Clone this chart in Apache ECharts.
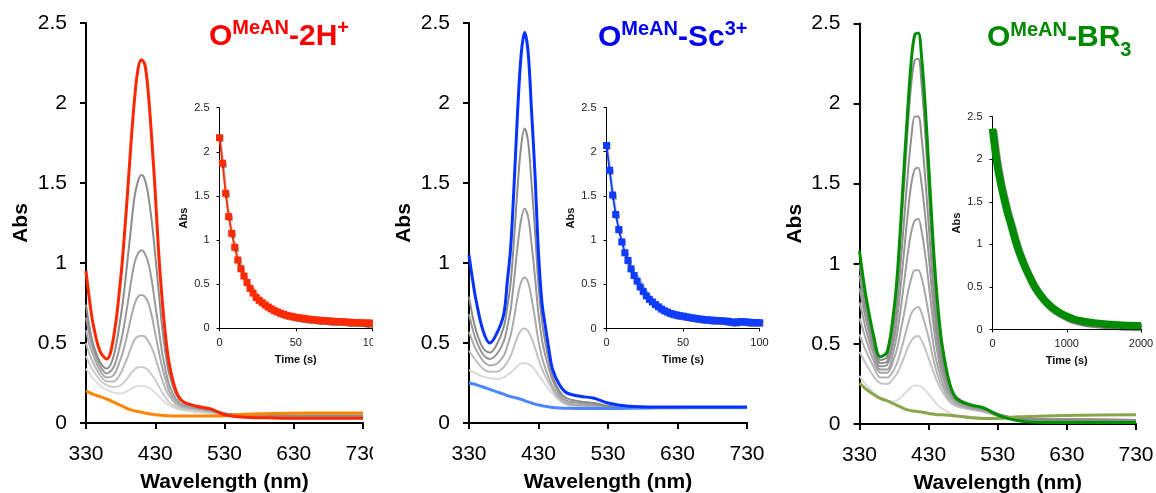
<!DOCTYPE html>
<html>
<head>
<meta charset="utf-8">
<script src="https://cdn.jsdelivr.net/npm/echarts@6/dist/echarts.min.js"></script>
<style>
  html, body { margin:0; padding:0; background:#fff; }
  body { width:1156px; height:493px; overflow:hidden; position:relative; }
  .panel { position:absolute; top:0; height:493px; overflow:hidden; }
</style>
</head>
<body>
<div id="c1" class="panel" style="left:0px;width:373px"></div>
<div id="c2" class="panel" style="left:373px;width:397px"></div>
<div id="c3" class="panel" style="left:770px;width:386px"></div>
<script>
// ---------------- DATA ----------------
const wavelengths = [330,335,340,350,360,370,380,385,390,395,400,405,410,415,420,425,430,435,440,445,450,460,470,490,510,530,560,600,650,730];
const xTickLabels = ['330','430','530','630','730'];

// Panel 1: O(MeAN)-2H+
const p1Start = [0.95,0.77,0.625,0.45,0.40,0.54,0.90,1.15,1.44,1.75,2.02,2.21,2.27,2.24,2.06,1.77,1.44,1.06,0.77,0.54,0.375,0.20,0.135,0.105,0.088,0.052,0.036,0.032,0.03,0.03];
const p1Gray1 = [0.74,0.60,0.50,0.385,0.34,0.42,0.66,0.82,1.02,1.22,1.41,1.51,1.55,1.52,1.42,1.26,1.05,0.82,0.60,0.43,0.31,0.18,0.13,0.10,0.085,0.06,0.05,0.045,0.045,0.045];
const p1Gray2 = [0.66,0.55,0.47,0.36,0.31,0.35,0.50,0.61,0.74,0.88,1.00,1.06,1.08,1.06,1.00,0.89,0.74,0.59,0.44,0.33,0.24,0.15,0.115,0.095,0.08,0.06,0.05,0.045,0.045,0.045];
const p1Gray3 = [0.58,0.49,0.43,0.33,0.285,0.30,0.40,0.47,0.56,0.66,0.74,0.79,0.80,0.79,0.75,0.67,0.56,0.45,0.35,0.27,0.20,0.13,0.105,0.09,0.075,0.06,0.05,0.045,0.045,0.045];
const p1Gray4 = [0.50,0.43,0.38,0.30,0.26,0.26,0.31,0.36,0.41,0.47,0.52,0.54,0.545,0.54,0.51,0.47,0.41,0.34,0.27,0.21,0.17,0.115,0.095,0.085,0.07,0.055,0.05,0.045,0.045,0.045];
const p1Gray5 = [0.42,0.37,0.33,0.27,0.235,0.225,0.235,0.255,0.28,0.31,0.335,0.348,0.35,0.345,0.33,0.30,0.27,0.23,0.19,0.16,0.13,0.10,0.085,0.075,0.065,0.055,0.05,0.045,0.045,0.045];
const p1Gray6 = [0.34,0.31,0.28,0.235,0.205,0.19,0.185,0.19,0.20,0.213,0.225,0.232,0.233,0.23,0.222,0.208,0.19,0.168,0.145,0.125,0.11,0.09,0.078,0.068,0.06,0.052,0.048,0.046,0.045,0.045];
const p1End = [0.20,0.19,0.18,0.165,0.15,0.13,0.11,0.10,0.09,0.082,0.076,0.072,0.068,0.063,0.058,0.055,0.052,0.05,0.048,0.046,0.045,0.044,0.043,0.043,0.043,0.045,0.055,0.06,0.062,0.062];

// Panel 2: O(MeAN)-Sc3+
const p2Start = [1.05,0.90,0.77,0.58,0.50,0.56,0.68,0.88,1.10,1.50,1.95,2.30,2.44,2.32,1.95,1.55,1.06,0.75,0.60,0.46,0.34,0.24,0.19,0.167,0.155,0.125,0.105,0.10,0.10,0.10];
const p2Gray1 = [0.79,0.67,0.58,0.47,0.44,0.49,0.60,0.72,0.88,1.16,1.48,1.73,1.84,1.76,1.50,1.20,0.86,0.64,0.50,0.39,0.30,0.20,0.155,0.135,0.125,0.108,0.10,0.097,0.095,0.095];
const p2Gray2 = [0.68,0.59,0.52,0.43,0.40,0.43,0.51,0.60,0.71,0.90,1.11,1.27,1.34,1.29,1.12,0.91,0.68,0.52,0.42,0.34,0.27,0.18,0.14,0.125,0.115,0.104,0.098,0.095,0.095,0.095];
const p2Gray3 = [0.57,0.51,0.46,0.39,0.36,0.37,0.42,0.48,0.55,0.66,0.79,0.88,0.91,0.88,0.78,0.65,0.51,0.41,0.34,0.28,0.23,0.16,0.125,0.112,0.105,0.098,0.095,0.095,0.095,0.095];
const p2Gray4 = [0.45,0.42,0.39,0.34,0.32,0.32,0.35,0.38,0.42,0.48,0.54,0.58,0.59,0.575,0.53,0.47,0.40,0.34,0.29,0.25,0.21,0.15,0.12,0.105,0.10,0.095,0.093,0.093,0.093,0.093];
const p2Gray5 = [0.33,0.32,0.31,0.29,0.28,0.275,0.285,0.30,0.315,0.335,0.358,0.372,0.375,0.37,0.355,0.33,0.30,0.27,0.24,0.21,0.185,0.14,0.115,0.10,0.095,0.093,0.09,0.09,0.09,0.09];
const p2End = [0.25,0.245,0.24,0.225,0.21,0.195,0.18,0.172,0.165,0.16,0.155,0.148,0.14,0.132,0.125,0.118,0.113,0.108,0.104,0.1,0.097,0.094,0.092,0.09,0.09,0.09,0.092,0.095,0.097,0.097];

// Panel 3: O(MeAN)-BR3
const p3Start = [1.08,0.92,0.78,0.56,0.42,0.45,0.72,0.95,1.28,1.64,1.98,2.27,2.43,2.44,2.28,1.99,1.62,1.24,0.91,0.66,0.48,0.26,0.16,0.12,0.10,0.055,0.02,0.01,0.01,0.01];
const p3Gray1 = [1.00,0.86,0.74,0.53,0.40,0.42,0.68,0.90,1.21,1.53,1.86,2.13,2.27,2.28,2.11,1.82,1.47,1.11,0.79,0.57,0.41,0.25,0.17,0.12,0.10,0.065,0.035,0.025,0.022,0.02];
const p3Gray2 = [0.93,0.80,0.69,0.50,0.38,0.39,0.60,0.78,1.03,1.30,1.57,1.79,1.92,1.92,1.78,1.54,1.25,0.95,0.69,0.50,0.37,0.23,0.16,0.115,0.095,0.06,0.035,0.03,0.028,0.025];
const p3Gray3 = [0.85,0.74,0.64,0.47,0.36,0.37,0.53,0.68,0.88,1.10,1.32,1.50,1.59,1.60,1.49,1.30,1.06,0.82,0.60,0.45,0.34,0.21,0.15,0.11,0.09,0.06,0.035,0.03,0.028,0.025];
const p3Gray4 = [0.76,0.67,0.58,0.44,0.34,0.34,0.47,0.58,0.73,0.90,1.07,1.20,1.27,1.28,1.20,1.06,0.88,0.69,0.52,0.39,0.30,0.19,0.14,0.105,0.088,0.058,0.035,0.03,0.028,0.025];
const p3Gray5 = [0.66,0.59,0.52,0.40,0.32,0.32,0.41,0.48,0.59,0.70,0.82,0.91,0.96,0.96,0.91,0.81,0.69,0.55,0.42,0.33,0.26,0.17,0.13,0.10,0.085,0.055,0.035,0.03,0.028,0.025];
const p3Gray6 = [0.56,0.50,0.45,0.36,0.29,0.29,0.34,0.39,0.46,0.54,0.62,0.69,0.72,0.73,0.69,0.62,0.54,0.44,0.35,0.28,0.23,0.15,0.12,0.095,0.08,0.052,0.035,0.03,0.028,0.025];
const p3Gray7 = [0.45,0.41,0.37,0.30,0.255,0.25,0.29,0.32,0.37,0.42,0.48,0.52,0.545,0.55,0.52,0.47,0.41,0.35,0.29,0.24,0.20,0.14,0.11,0.09,0.075,0.05,0.035,0.03,0.028,0.025];
const p3Gray8 = [0.30,0.27,0.24,0.20,0.165,0.145,0.14,0.15,0.165,0.19,0.21,0.23,0.24,0.24,0.23,0.21,0.185,0.16,0.135,0.11,0.095,0.07,0.055,0.045,0.04,0.035,0.03,0.028,0.026,0.025];
const p3End = [0.255,0.235,0.215,0.185,0.16,0.145,0.125,0.115,0.105,0.095,0.088,0.083,0.08,0.077,0.075,0.07,0.066,0.063,0.06,0.058,0.057,0.055,0.05,0.04,0.035,0.035,0.045,0.05,0.055,0.058];

// Insets: kinetics
const time1 = [0,2,4,6,8,10,12,14,16,18,20,22,24,26,28,30,32,34,36,38,40,42,44,46,48,50,52,54,56,58,60,62,64,66,68,70,72,74,76,78,80,82,84,86,88,90,92,94,96,98,100];
const kin1 = [2.16,1.87,1.53,1.265,1.076,0.918,0.774,0.676,0.593,0.52,0.453,0.40,0.35,0.317,0.29,0.264,0.24,0.22,0.20,0.185,0.17,0.16,0.147,0.14,0.13,0.125,0.12,0.115,0.11,0.105,0.10,0.097,0.093,0.09,0.087,0.085,0.082,0.08,0.078,0.076,0.074,0.072,0.07,0.068,0.066,0.065,0.063,0.062,0.06,0.059,0.058];
const time2 = [0,2,4,6,8,10,12,14,16,18,20,22,24,26,28,30,32,34,36,38,40,42,44,46,48,50,52,54,56,58,60,62,64,66,68,70,72,74,76,78,80,82,84,86,88,90,92,94,96,98,100];
const kin2 = [2.07,1.79,1.51,1.29,1.12,0.98,0.857,0.77,0.676,0.60,0.536,0.47,0.42,0.37,0.33,0.30,0.27,0.245,0.22,0.20,0.185,0.17,0.16,0.152,0.145,0.14,0.133,0.126,0.12,0.115,0.11,0.105,0.10,0.097,0.095,0.093,0.09,0.088,0.086,0.084,0.08,0.072,0.07,0.075,0.078,0.076,0.072,0.07,0.068,0.067,0.066];
const time3 = [0,50,100,150,200,250,300,350,400,450,500,550,600,650,700,750,800,850,900,950,1000,1100,1200,1300,1400,1500,1600,1700,1800,1900,2000];
const kin3 = [2.36,2.01,1.76,1.56,1.38,1.23,1.07,0.93,0.815,0.71,0.62,0.53,0.46,0.40,0.345,0.30,0.26,0.227,0.20,0.176,0.155,0.12,0.10,0.085,0.075,0.065,0.058,0.052,0.048,0.045,0.043];

// ---------------- RENDERING ----------------
const FONT = '"Liberation Sans", Arial, Helvetica, sans-serif';
const mctx = document.createElement('canvas').getContext('2d');
function textWidth(t, font) { mctx.font = font; return mctx.measureText(t).width; }

function pairs(xs, ys, off) { return ys.map((y, i) => [xs[i] - off, y]); }

function titleEls(parts, x0, color) {
  let x = x0;
  const els = [];
  parts.forEach(p => {
    const font = 'bold ' + p.size + 'px ' + FONT;
    els.push({
      type: 'text', x: x, y: p.y, silent: true,
      style: { text: p.t, font: font, fill: color, textAlign: 'left', textVerticalAlign: 'middle', align: 'left', verticalAlign: 'middle' }
    });
    x += textWidth(p.t, font);
  });
  return els;
}

function build(elId, cfg) {
  const el = document.getElementById(elId);
  const chart = echarts.init(el, null, { renderer: 'canvas', width: cfg.w, height: 493 });
  const ox = cfg.ox;
  const series = [];
  cfg.grays.forEach((g, i) => {
    series.push({
      type: 'line', xAxisIndex: 0, yAxisIndex: 0, data: pairs(wavelengths, g, 330),
      smooth: 0.35, symbol: 'none', lineStyle: { color: cfg.grayColors[i], width: 2 }, z: 2
    });
  });
  series.push({
    type: 'line', xAxisIndex: 0, yAxisIndex: 0, data: pairs(wavelengths, cfg.end, 330),
    smooth: 0.35, symbol: 'none', lineStyle: { color: cfg.endColor, width: 3 }, z: 3
  });
  series.push({
    type: 'line', xAxisIndex: 0, yAxisIndex: 0, data: pairs(wavelengths, cfg.start, 330),
    smooth: 0.35, symbol: 'none', lineStyle: { color: cfg.startColor, width: 3 }, z: 4
  });
  const kinData = cfg.kinT.map((t, i) => [t, cfg.kinA[i]]);
  if (cfg.dense) {
    series.push({
      type: 'line', xAxisIndex: 1, yAxisIndex: 1, data: kinData, smooth: 0.3, symbol: 'none',
      lineStyle: { color: cfg.kinColor, width: 7.5, shadowColor: 'rgba(0,0,0,0.55)', shadowBlur: 1, shadowOffsetX: 1, shadowOffsetY: 1.5 }, z: 5
    });
  } else {
    series.push({
      type: 'line', xAxisIndex: 1, yAxisIndex: 1, data: kinData, symbol: 'rect', symbolSize: 7,
      itemStyle: { color: cfg.kinColor, shadowColor: 'rgba(0,0,0,0.3)', shadowBlur: 1, shadowOffsetX: 1, shadowOffsetY: 1 },
      lineStyle: { color: cfg.kinColor, width: 1.8, shadowColor: 'rgba(0,0,0,0.3)', shadowBlur: 1, shadowOffsetX: 1, shadowOffsetY: 1 }, z: 5
    });
  }

  const mainAxisLine = { show: true, lineStyle: { color: '#000', width: 2 } };
  const insetAxisLine = { show: true, lineStyle: { color: '#000', width: 1 } };
  const option = {
    animation: false,
    textStyle: { fontFamily: FONT },
    grid: [
      { left: cfg.main.x - ox, top: cfg.main.y, width: cfg.main.w, height: cfg.main.h, containLabel: false, outerBoundsMode: 'none' },
      { left: cfg.inset.x - ox, top: cfg.inset.y, width: cfg.inset.w, height: cfg.inset.h, containLabel: false, outerBoundsMode: 'none' }
    ],
    xAxis: [
      {
        gridIndex: 0, type: 'value', min: 0, max: 400, interval: 100,
        axisLine: mainAxisLine, axisTick: { show: true, inside: false, length: 6, lineStyle: { color: '#000', width: 2 } },
        splitLine: { show: false },
        axisLabel: { margin: 21, fontSize: 21, color: '#000', fontFamily: FONT, hideOverlap: false, formatter: v => xTickLabels[Math.round(v / 100)] },
        name: 'Wavelength (nm)', nameLocation: 'middle', nameGap: 49, nameMoveOverlap: false,
        nameTextStyle: { fontSize: 21, fontWeight: 'bold', color: '#000', fontFamily: FONT }
      },
      {
        gridIndex: 1, type: 'value', min: 0, max: cfg.kinMax, interval: cfg.kinMax / 2,
        axisLine: insetAxisLine, axisTick: { show: true, length: 3, lineStyle: { color: '#000', width: 1 } },
        splitLine: { show: false },
        axisLabel: { margin: 9, fontSize: 11, color: '#222', fontFamily: FONT, hideOverlap: false, formatter: v => String(v) },
        name: 'Time (s)', nameLocation: 'middle', nameGap: 26, nameMoveOverlap: false,
        nameTextStyle: { fontSize: 11, fontWeight: 'bold', color: '#111', fontFamily: FONT }
      }
    ],
    yAxis: [
      {
        gridIndex: 0, type: 'value', min: 0, max: 2.5, interval: 0.5,
        axisLine: mainAxisLine, axisTick: { show: true, inside: false, length: 6, lineStyle: { color: '#000', width: 2 } },
        splitLine: { show: false },
        axisLabel: { margin: 19, fontSize: 21, color: '#000', fontFamily: FONT },
        name: 'Abs', nameLocation: 'middle', nameGap: 54, nameMoveOverlap: false,
        nameTextStyle: { fontSize: 21, fontWeight: 'bold', color: '#000', fontFamily: FONT }
      },
      {
        gridIndex: 1, type: 'value', min: 0, max: 2.5, interval: 0.5,
        axisLine: insetAxisLine, axisTick: { show: true, length: 3, lineStyle: { color: '#000', width: 1 } },
        splitLine: { show: false },
        axisLabel: { margin: 10, fontSize: 11, color: '#222', fontFamily: FONT },
        name: 'Abs', nameLocation: 'middle', nameGap: 30, nameMoveOverlap: false,
        nameTextStyle: { fontSize: 11, fontWeight: 'bold', color: '#111', fontFamily: FONT }
      }
    ],
    graphic: titleEls(cfg.title.parts, cfg.title.x - ox, cfg.title.color),
    series: series
  };
  chart.setOption(option);
}

build('c1', {
  w: 373, ox: 0,
  main: { x: 86, y: 23, w: 277, h: 400 },
  inset: { x: 219.5, y: 107.7, w: 152.5, h: 220.6 },
  start: p1Start, end: p1End, grays: [p1Gray6, p1Gray5, p1Gray4, p1Gray3, p1Gray2, p1Gray1],
  grayColors: ['#dedede', '#cdcdcd', '#bababa', '#a8a8a8', '#9a9a9a', '#8c8c8c'],
  startColor: '#ff2600', endColor: '#ff8400',
  kinT: time1, kinA: kin1, kinMax: 100, kinColor: '#ff2a00', dense: false,
  title: { x: 209, color: '#ff0000', parts: [
    { t: 'O', size: 30, y: 36.5 }, { t: 'MeAN', size: 20, y: 28.5 }, { t: '-2H', size: 30, y: 36.5 }, { t: '+', size: 20, y: 28.5 } ] }
});

build('c2', {
  w: 397, ox: 373,
  main: { x: 469, y: 23, w: 278, h: 400 },
  inset: { x: 606.5, y: 107.5, w: 153, h: 221 },
  start: p2Start, end: p2End, grays: [p2Gray5, p2Gray4, p2Gray3, p2Gray2, p2Gray1],
  grayColors: ['#d9d9d9', '#c2c2c2', '#ababab', '#999999', '#8c8c8c'],
  startColor: '#0433ff', endColor: '#4a86ff',
  kinT: time2, kinA: kin2, kinMax: 100, kinColor: '#0f3cff', dense: false,
  title: { x: 598, color: '#0000f0', parts: [
    { t: 'O', size: 30, y: 37.5 }, { t: 'MeAN', size: 20, y: 29.5 }, { t: '-Sc', size: 30, y: 37.5 }, { t: '3+', size: 20, y: 29.5 } ] }
});

build('c3', {
  w: 386, ox: 770,
  main: { x: 859.5, y: 23.5, w: 276.5, h: 400.5 },
  inset: { x: 992.5, y: 116.7, w: 148.5, h: 212.8 },
  start: p3Start, end: p3End, grays: [p3Gray8, p3Gray7, p3Gray6, p3Gray5, p3Gray4, p3Gray3, p3Gray2, p3Gray1],
  grayColors: ['#dcdcdc', '#c4c4c4', '#b4b4b4', '#a8a8a8', '#9e9e9e', '#969696', '#909090', '#8a8a8a'],
  startColor: '#008f00', endColor: '#8aa64c',
  kinT: time3, kinA: kin3, kinMax: 2000, kinColor: '#008c00', dense: true,
  title: { x: 987, color: '#008800', parts: [
    { t: 'O', size: 30, y: 38 }, { t: 'MeAN', size: 20, y: 30 }, { t: '-BR', size: 30, y: 38 }, { t: '3', size: 20, y: 50 } ] }
});
</script>
</body>
</html>
